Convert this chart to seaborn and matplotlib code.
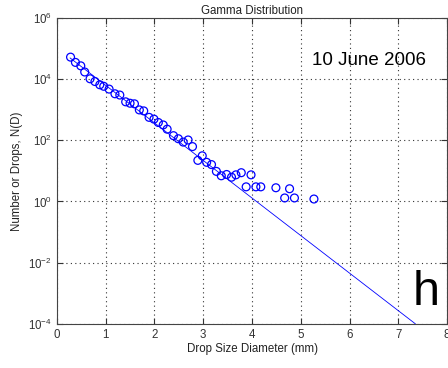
import matplotlib
matplotlib.use("Agg")
import matplotlib.pyplot as plt
import seaborn as sns
import pandas as pd
import numpy as np

# measured drop counts (diameter in mm, N(D))
diam = [0.28, 0.38, 0.49, 0.57, 0.68, 0.78, 0.88, 0.96, 1.07, 1.19, 1.29, 1.41,
        1.50, 1.59, 1.69, 1.78, 1.89, 1.99, 2.08, 2.18, 2.26, 2.39, 2.49, 2.59,
        2.69, 2.78, 2.89, 2.98, 3.07, 3.17, 3.27, 3.37, 3.48, 3.58, 3.67, 3.78,
        3.88, 3.98, 4.08, 4.18, 4.49, 4.67, 4.77, 4.87, 5.27]
counts = [52000, 35000, 27000, 17000, 10200, 8300, 6500, 5800, 4700, 3300, 3000, 1800,
          1620, 1550, 980, 910, 560, 490, 380, 316, 230, 141, 112, 87,
          102, 62, 22, 31, 19, 16, 9.6, 6.9, 7.6, 6.2, 7.4, 8.7,
          3.0, 7.4, 3.0, 3.0, 2.8, 1.3, 2.6, 1.3, 1.2]

# gamma fit line (end points)
fit_d = [0.27, 7.35]
fit_n = [49000, 1e-4]

sns.set_style("ticks")
plt.rcParams['font.family'] = ['Liberation Sans', 'DejaVu Sans']
plt.rcParams['mathtext.fontset'] = 'custom'
plt.rcParams['mathtext.rm'] = 'Liberation Sans'
plt.rcParams['mathtext.default'] = 'regular'

df = pd.DataFrame({'d': diam, 'n': counts})
fit = pd.DataFrame({'d': fit_d, 'n': fit_n})

fig = plt.figure(figsize=(4.48, 3.68), dpi=100)
ax = fig.add_axes([0.127, 0.12, 0.871, 0.8315])

sns.lineplot(data=fit, x='d', y='n', ax=ax, color='blue', linewidth=0.6)
sns.scatterplot(data=df, x='d', y='n', ax=ax, marker='o', s=32,
                facecolors='none', edgecolor='blue', linewidth=0.9)

ax.set_yscale('log')
ax.set_xlim(0, 8)
ax.set_ylim(1e-4, 1e6)
ax.set_xticks(range(0, 9))
ytk = [1e-4, 1e-2, 1, 1e2, 1e4, 1e6]
ax.set_yticks(ytk)
ax.set_yticklabels([r'$10^{%d}$' % int(np.log10(v)) for v in ytk])
ax.minorticks_off()
ax.grid(True, linestyle=(0, (1, 3)), color='#333333', linewidth=0.8)
ax.tick_params(direction='in', top=True, right=True, length=4, labelsize=8.3,
               colors='#333333', labelcolor='#333333')
for s in ax.spines.values():
    s.set_color('#444444')
    s.set_linewidth(0.8)

ax.set_xlabel('Drop Size Diameter (mm)', fontsize=8.3, color='#222222', labelpad=2)
ax.set_ylabel('Number or Drops, N(D)', fontsize=8.3, color='#222222', labelpad=4)
ax.set_title('Gamma Distribution', fontsize=8.3, color='#222222', pad=3)

ax.text(0.945, 0.86, '10 June 2006', transform=ax.transAxes, fontsize=13.5,
        ha='right', va='center', color='black')
ax.text(0.98, 0.03, 'h', transform=ax.transAxes, fontsize=35,
        ha='right', va='bottom', color='black')

fig.savefig('out.png', dpi=100)
